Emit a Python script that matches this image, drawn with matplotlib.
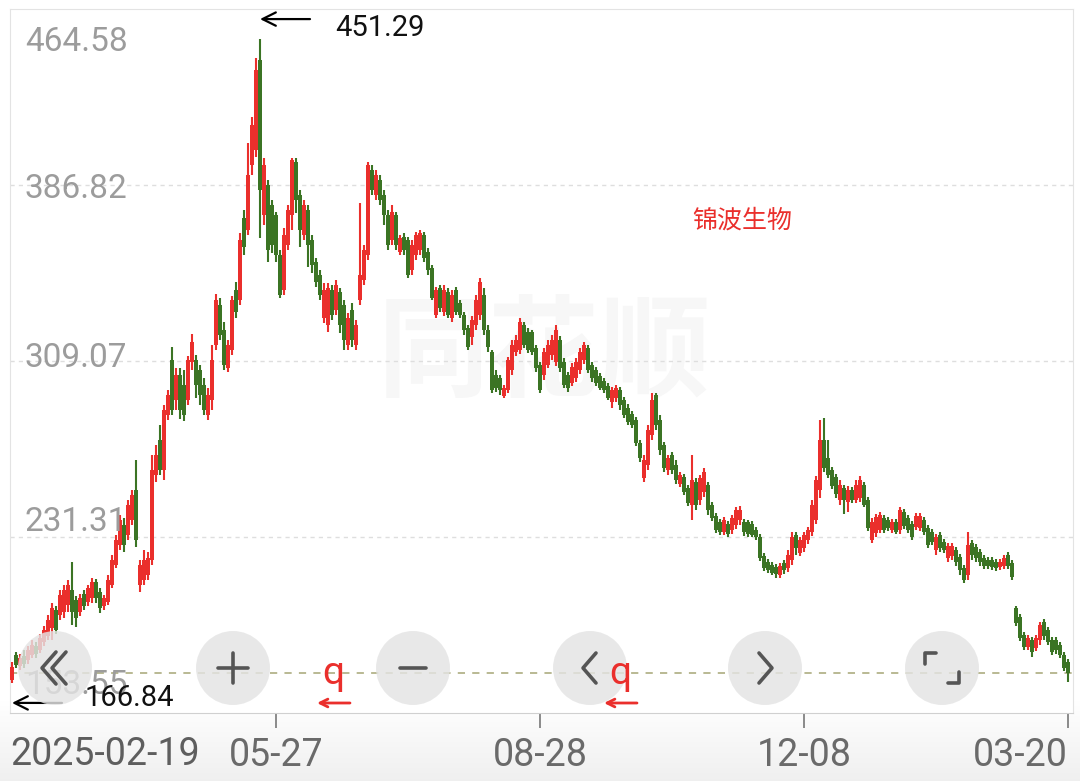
import matplotlib.pyplot as plt
import matplotlib.transforms as mtransforms
from matplotlib.patches import Circle
import numpy as np

plt.rcParams['font.family'] = ['Roboto', 'Noto Sans CJK SC', 'DejaVu Sans']

# daily candles 2025-02-19 .. 2026-03-20
opens = [168.2, 179.2, 174.4, 178.8, 177.0, 179.2, 183.1, 181.4, 184.9, 187.6,
         191.1, 199.1, 196.9, 198.2, 201.3, 207.9, 203.5, 198.2, 206.2, 202.6,
         204.4, 211.4, 207.0, 200.8, 202.6, 210.1, 218.9, 227.8, 236.6, 232.2,
         238.8, 252.1, 210.1, 212.3, 214.5, 221.2, 258.7, 274.2, 260.9, 285.2,
         309.5, 291.9, 302.9, 298.5, 291.9, 308.6, 309.5, 305.1, 298.5, 285.2,
         291.9, 316.1, 333.8, 322.8, 306.0, 313.9, 340.4, 336.0, 372.3, 366.9,
         395.7, 402.3, 442.1, 373.6, 386.8, 378.0, 373.6, 355.9, 340.4, 360.3,
         373.6, 397.0, 382.4, 364.7, 375.8, 362.5, 352.8, 347.1, 328.1, 325.0,
         340.4, 331.6, 339.6, 333.8, 316.1, 331.6, 316.1, 336.0, 344.9, 355.9,
         393.5, 382.4, 389.0, 382.4, 373.6, 362.5, 373.6, 357.2, 363.8, 362.5,
         349.3, 355.9, 358.1, 364.7, 357.2, 350.2, 329.4, 341.3, 330.7, 339.6,
         328.1, 340.4, 334.7, 329.4, 323.6, 319.7, 325.0, 329.4, 338.2, 322.8,
         313.1, 302.9, 301.6, 293.6, 296.3, 305.1, 313.1, 313.9, 325.0, 321.9,
         321.9, 314.8, 307.3, 302.9, 307.3, 311.7, 308.6, 318.4, 308.6, 302.9,
         299.4, 301.6, 305.1, 309.5, 314.8, 307.3, 305.1, 302.5, 300.2, 298.0,
         290.9, 292.7, 296.3, 291.9, 288.3, 285.7, 283.0, 272.9, 257.4, 263.1,
         276.4, 294.1, 283.0, 271.9, 260.9, 267.6, 263.1, 254.7, 257.8, 253.0,
         245.5, 255.6, 247.7, 251.2, 254.3, 245.5, 240.6, 237.9, 233.5, 237.1,
         234.4, 236.6, 238.8, 237.9, 237.9, 237.1, 234.4, 231.3, 222.9, 220.3,
         218.9, 218.1, 214.5, 219.8, 217.6, 221.2, 232.2, 224.2, 226.5, 230.0,
         233.5, 238.8, 252.1, 274.2, 266.2, 260.9, 257.8, 247.7, 253.0, 246.8,
         252.1, 247.7, 248.6, 254.3, 247.7, 230.0, 233.1, 234.4, 239.7, 238.8,
         234.4, 237.9, 234.4, 242.4, 239.7, 237.1, 235.7, 235.3, 238.8, 235.3,
         233.5, 225.6, 232.2, 229.1, 222.0, 222.9, 225.6, 222.5, 217.6, 214.5,
         228.7, 226.9, 224.7, 222.0, 221.2, 221.2, 220.3, 218.1, 218.5, 223.4,
         219.8, 200.0, 196.0, 188.0, 182.7, 185.8, 182.3, 185.8, 193.8, 190.2,
         185.8, 185.8, 183.6, 179.2, 176.1]

closes = [173.9, 174.8, 177.9, 175.2, 181.4, 183.6, 179.6, 186.7, 190.2, 194.7,
          200.0, 190.2, 205.7, 207.9, 210.1, 198.2, 195.5, 204.4, 200.8, 208.8,
          211.4, 204.4, 200.0, 204.4, 212.3, 221.2, 230.0, 238.8, 227.8, 245.5,
          249.9, 230.0, 218.9, 221.2, 222.0, 260.9, 267.6, 260.9, 287.4, 294.1,
          287.4, 302.9, 287.4, 285.2, 309.5, 317.5, 298.5, 294.1, 287.4, 294.1,
          309.5, 336.0, 320.6, 307.3, 316.1, 336.0, 330.7, 362.5, 359.4, 391.3,
          413.3, 437.6, 384.6, 395.7, 358.1, 360.3, 355.9, 338.2, 364.7, 375.8,
          397.9, 380.2, 366.9, 378.0, 360.3, 351.5, 344.0, 338.2, 340.4, 341.3,
          329.4, 342.7, 325.0, 318.4, 328.1, 318.4, 325.0, 347.1, 358.1, 395.7,
          384.6, 391.3, 380.2, 373.6, 360.3, 374.9, 360.3, 363.4, 358.1, 347.1,
          360.3, 364.7, 365.6, 354.6, 349.3, 336.9, 340.4, 332.5, 340.4, 329.4,
          338.2, 330.7, 329.4, 322.8, 315.3, 327.2, 336.0, 344.0, 322.8, 315.3,
          296.3, 297.2, 296.3, 297.2, 309.5, 316.1, 318.4, 326.3, 316.1, 313.9,
          313.1, 306.0, 296.3, 313.1, 316.1, 318.4, 322.8, 306.0, 298.5, 297.2,
          306.4, 308.6, 313.1, 316.1, 305.1, 301.6, 299.4, 297.2, 296.3, 292.7,
          296.3, 297.2, 289.6, 285.2, 282.1, 280.8, 272.9, 266.2, 265.3, 278.6,
          291.9, 280.8, 269.8, 261.8, 266.2, 260.9, 256.5, 258.7, 251.2, 246.4,
          256.5, 245.5, 257.4, 260.0, 243.3, 239.7, 234.4, 233.5, 238.8, 232.7,
          239.7, 243.3, 243.3, 233.5, 232.7, 232.2, 231.3, 222.0, 217.6, 216.7,
          215.4, 215.0, 218.5, 216.7, 223.4, 231.3, 226.5, 230.0, 232.2, 234.4,
          245.5, 256.5, 274.2, 261.8, 258.7, 253.9, 250.3, 254.3, 247.7, 252.1,
          247.7, 254.3, 256.5, 245.5, 235.3, 237.9, 240.2, 241.0, 234.4, 235.3,
          237.9, 233.5, 243.3, 236.2, 234.4, 231.3, 240.6, 240.6, 233.5, 227.8,
          229.1, 231.3, 226.5, 225.6, 227.3, 227.3, 220.3, 216.7, 212.3, 227.8,
          223.4, 222.0, 220.3, 218.5, 218.5, 218.1, 217.6, 220.3, 222.0, 218.5,
          213.6, 193.4, 186.7, 182.7, 186.7, 180.5, 186.7, 192.4, 187.6, 184.9,
          180.5, 181.4, 179.2, 173.5, 171.2]

highs = [176.1, 180.5, 179.6, 181.4, 183.1, 185.8, 184.9, 188.5, 192.0, 196.9,
         202.2, 200.8, 207.9, 210.1, 212.3, 220.3, 205.3, 206.2, 207.9, 210.1,
         213.2, 212.7, 208.8, 205.7, 214.5, 223.4, 232.2, 241.0, 239.7, 247.7,
         252.1, 265.3, 221.2, 225.6, 224.7, 267.6, 272.0, 280.8, 289.7, 296.3,
         315.2, 306.0, 306.0, 305.1, 311.3, 321.0, 311.7, 307.3, 301.6, 297.2,
         316.1, 338.7, 336.9, 326.3, 318.4, 337.8, 344.0, 365.6, 375.8, 405.4,
         416.9, 442.9, 451.29, 398.8, 389.0, 380.2, 374.9, 358.1, 367.8, 378.0,
         398.8, 398.8, 384.6, 380.2, 378.0, 364.7, 354.6, 349.3, 343.5, 343.5,
         342.7, 344.9, 341.3, 336.0, 330.3, 334.7, 327.2, 378.9, 360.3, 397.0,
         395.7, 393.5, 391.3, 384.6, 375.8, 378.0, 374.9, 364.7, 365.6, 363.8,
         362.5, 366.0, 366.9, 366.0, 359.0, 351.5, 341.8, 342.7, 342.7, 341.3,
         340.4, 341.8, 336.0, 330.7, 325.0, 329.0, 338.2, 345.7, 341.3, 325.0,
         313.9, 305.1, 302.9, 298.5, 310.8, 318.4, 320.6, 328.1, 326.3, 323.6,
         322.8, 316.1, 308.6, 314.8, 318.4, 320.6, 325.0, 320.1, 310.4, 304.2,
         308.2, 310.4, 314.8, 317.5, 316.1, 308.6, 306.4, 303.8, 301.6, 299.4,
         297.6, 298.5, 297.6, 293.2, 290.1, 287.0, 284.4, 274.2, 267.6, 280.8,
         295.0, 295.0, 285.2, 273.3, 267.6, 268.9, 265.3, 260.0, 259.2, 254.3,
         267.6, 257.4, 258.7, 261.8, 255.6, 246.8, 241.9, 239.3, 240.2, 238.4,
         241.0, 244.6, 245.0, 239.3, 238.8, 238.4, 235.7, 232.7, 224.2, 221.6,
         220.3, 219.4, 219.8, 221.2, 225.6, 233.5, 233.5, 231.3, 233.5, 235.7,
         247.7, 258.3, 283.0, 283.9, 274.2, 262.2, 259.2, 256.5, 254.3, 253.9,
         253.4, 256.5, 258.3, 255.6, 249.0, 239.7, 241.5, 242.4, 241.0, 240.2,
         239.3, 239.3, 244.6, 243.7, 241.0, 238.4, 241.9, 241.9, 240.2, 236.6,
         234.9, 232.7, 233.5, 230.4, 228.7, 228.7, 226.9, 223.8, 218.9, 233.5,
         230.0, 228.2, 226.0, 223.4, 222.5, 222.5, 221.6, 221.6, 223.4, 224.7,
         221.2, 200.8, 197.3, 189.3, 188.0, 187.1, 188.0, 193.8, 195.1, 191.6,
         187.1, 187.1, 184.9, 180.5, 177.5]

lows = [166.84, 173.5, 172.6, 173.5, 175.2, 177.9, 177.9, 180.1, 183.1, 185.8,
        185.8, 188.5, 194.7, 195.5, 198.2, 192.4, 191.5, 196.4, 199.1, 200.8,
        202.2, 202.2, 197.8, 199.1, 201.3, 208.8, 217.6, 225.6, 224.7, 230.0,
        236.6, 226.9, 207.0, 210.1, 212.3, 218.9, 255.6, 258.7, 256.5, 283.0,
        285.2, 287.4, 283.5, 282.6, 289.7, 305.1, 292.7, 289.7, 285.2, 283.0,
        287.4, 313.9, 318.4, 305.1, 304.2, 311.7, 328.1, 333.8, 355.9, 364.7,
        391.3, 399.2, 363.4, 369.2, 352.8, 356.8, 352.8, 336.9, 338.2, 358.1,
        366.9, 374.5, 359.4, 362.5, 350.6, 348.0, 341.8, 336.0, 325.9, 321.9,
        327.2, 329.4, 321.4, 313.9, 313.9, 315.3, 313.9, 333.8, 342.7, 353.7,
        382.4, 380.2, 378.0, 369.2, 358.1, 360.3, 358.1, 355.9, 355.9, 345.7,
        347.1, 353.7, 355.9, 352.8, 347.1, 336.0, 328.1, 330.7, 328.9, 328.1,
        326.3, 329.4, 328.1, 320.6, 313.9, 316.1, 322.8, 327.2, 320.6, 313.1,
        294.9, 295.4, 294.1, 292.7, 294.9, 302.9, 311.3, 312.2, 314.8, 312.6,
        311.7, 304.2, 294.9, 300.7, 306.0, 309.5, 306.9, 304.2, 297.2, 295.4,
        298.0, 299.8, 303.3, 307.7, 303.8, 299.8, 298.0, 296.3, 294.9, 291.9,
        288.3, 290.9, 287.4, 283.9, 280.8, 279.5, 271.5, 264.4, 255.6, 260.9,
        274.2, 278.6, 267.6, 260.0, 258.7, 259.2, 254.7, 253.4, 249.9, 245.0,
        238.8, 243.3, 245.5, 249.0, 241.0, 238.4, 233.1, 232.2, 232.2, 231.3,
        232.7, 234.9, 236.6, 231.8, 231.3, 231.3, 230.0, 220.7, 216.3, 215.4,
        214.5, 213.2, 213.2, 215.0, 215.8, 219.0, 223.4, 222.9, 224.7, 228.2,
        231.8, 237.1, 248.6, 260.0, 257.4, 252.5, 248.6, 245.5, 241.5, 242.4,
        246.4, 246.4, 246.8, 244.6, 234.0, 228.7, 231.3, 233.1, 233.1, 234.0,
        233.1, 232.7, 232.7, 234.9, 233.1, 230.0, 234.4, 234.0, 232.2, 226.5,
        227.8, 223.4, 224.7, 224.2, 220.3, 221.2, 218.5, 214.5, 211.0, 212.3,
        221.2, 220.3, 218.5, 217.2, 217.2, 216.7, 216.3, 216.7, 217.2, 217.2,
        212.3, 192.0, 185.4, 181.4, 181.4, 178.3, 180.9, 183.6, 185.8, 183.6,
        179.2, 179.6, 177.9, 172.1, 167.3]

ytick_vals = [464.58, 386.82, 309.07, 231.31, 153.55]
tick_idx = [66, 132, 198, 264]
tick_labels = ["05-27", "08-28", "12-08", "03-20"]
first_date = "2025-02-19"
stock_name = "锦波生物"
watermark = "同花顺"

red = '#EA2F2C'
green = '#3B7424'

W, H = 1080, 781
fig = plt.figure(figsize=(W / 100, H / 100), dpi=100)

# light gradient under the axis strip
bg = fig.add_axes([0, 0, 1, 1], zorder=-1)
grad = np.linspace(1.0, 0.94, 60)[:, None] * np.ones((1, 2))
bg.imshow(np.dstack([grad, grad, grad]), extent=(0, W, H, 700), aspect='auto')
bg.set_xlim(0, W)
bg.set_ylim(H, 0)
bg.axis('off')

ax = fig.add_axes([10 / W, 68 / H, 1063 / W, 704 / H])
ax.set_facecolor('white')

o = np.array(opens)
c = np.array(closes)
hi = np.array(highs)
lo = np.array(lows)
x = np.arange(len(o))
cols = np.where(c >= o, red, green)

ax.vlines(x, lo, hi, colors=cols, lw=1.5, zorder=3)
ax.bar(x, np.maximum(np.abs(c - o), 0.8), bottom=np.minimum(o, c), width=0.9,
       color=cols, linewidth=0, zorder=3)

ax.set_xlim(-0.5, 265.25)
ax.set_ylim(ytick_vals[-1], ytick_vals[0])

for v in ytick_vals[1:-1]:
    ax.axhline(v, color='#DEDEDE', lw=1, ls=(0, (3, 3)), zorder=1)

# last price line
ax.axhline(c[-1], color='#B3B38A', lw=1.3, ls=(0, (4, 4)), zorder=2)

for s in ax.spines.values():
    s.set_color('#E3E3E3')
ax.spines['bottom'].set_color('#D0D0D0')

ax.set_yticks([])
ax.set_xticks(tick_idx)
ax.set_xticklabels(tick_labels, fontsize=27, color='#6A6A6A')
ax.tick_params(axis='x', length=11, width=1.4, color='#8A8A8A', pad=6)
ax.get_xticklabels()[-1].set_ha('right')
ax.annotate(first_date, xy=(0, 0), xycoords='axes fraction', xytext=(0, -23),
            textcoords='offset pixels', ha='left', va='top', fontsize=27, color='#5E5E5E')

# price labels inside the plot
label_dy = [-33, -4, 3, 15, 28]
for v, dy in zip(ytick_vals, label_dy):
    ax.annotate(f'{v:.2f}', xy=(0, v), xycoords=('axes fraction', 'data'), xytext=(15, dy),
                textcoords='offset pixels', ha='left', va='center', fontsize=24, color='#9C9C9C')

# max / min markers
imax = int(np.argmax(hi))
imin = int(np.argmin(lo))
up20 = mtransforms.offset_copy(ax.transData, fig=fig, x=0, y=20, units='dots')
dn20 = mtransforms.offset_copy(ax.transData, fig=fig, x=0, y=-20, units='dots')
arrow = dict(arrowstyle='->', color='black', lw=1.6, shrinkA=0, shrinkB=0, mutation_scale=24)
ax.annotate('', xy=(imax, hi[imax]), xycoords=up20, xytext=(50, 0), textcoords='offset pixels',
            arrowprops=arrow, annotation_clip=False)
ax.annotate(f'{hi[imax]:.2f}', xy=(imax, hi[imax]), xytext=(75, 11), textcoords='offset pixels',
            ha='left', va='center', fontsize=21, color='#111111', annotation_clip=False)
ax.annotate('', xy=(imin, lo[imin]), xycoords=dn20, xytext=(50, 0), textcoords='offset pixels',
            arrowprops=arrow, annotation_clip=False)
ax.annotate(f'{lo[imin]:.2f}', xy=(imin, lo[imin]), xytext=(73, -15), textcoords='offset pixels',
            ha='left', va='center', fontsize=21, color='#111111', annotation_clip=False)

ax.text(0.689, 0.700, stock_name, transform=ax.transAxes, ha='center', va='center',
        fontsize=18, color=red, family=['Noto Sans CJK SC'])
ax.text(0.503, 0.508, watermark, transform=ax.transAxes, ha='center', va='center',
        fontsize=80, fontweight='bold', color='#F7F7F7', family=['Noto Sans CJK SC'], zorder=0)

# app buttons overlay (pixel coords)
ov = fig.add_axes([0, 0, 1, 1])
ov.set_xlim(0, W)
ov.set_ylim(H, 0)
ov.axis('off')
btn_x = [55, 233, 413, 590, 765, 942]
by = 668
gk = dict(color='#555555', lw=2.6, solid_capstyle='round', solid_joinstyle='round')
for bx in btn_x:
    ov.add_patch(Circle((bx, by), 37, color='#E4E4E4', alpha=0.82, lw=0))
b = btn_x[0]
ov.plot([b + 1, b - 13, b + 1], [by - 16, by, by + 16], **gk)
ov.plot([b + 11, b - 3, b + 11], [by - 16, by, by + 16], **gk)
b = btn_x[1]
ov.plot([b - 15, b + 15], [by, by], **gk)
ov.plot([b, b], [by - 15, by + 15], **gk)
b = btn_x[2]
ov.plot([b - 13, b + 13], [by, by], **gk)
b = btn_x[3]
ov.plot([b + 6, b - 7, b + 6], [by - 15, by, by + 15], **gk)
b = btn_x[4]
ov.plot([b - 6, b + 7, b - 6], [by - 15, by, by + 15], **gk)
b = btn_x[5]
ov.plot([b - 17, b - 17, b - 6], [by - 4, by - 15, by - 15], **gk)
ov.plot([b + 17, b + 17, b + 6], [by + 4, by + 15, by + 15], **gk)

for qx in [333, 620]:
    ov.text(qx, 674, 'q', color=red, fontsize=28, ha='center', va='center')
    ov.annotate('', xy=(qx - 16, 703), xytext=(qx + 17, 703),
                arrowprops=dict(arrowstyle='->', color=red, lw=2, shrinkA=0, shrinkB=0,
                                mutation_scale=14))

fig.savefig('out.png', dpi=100)
